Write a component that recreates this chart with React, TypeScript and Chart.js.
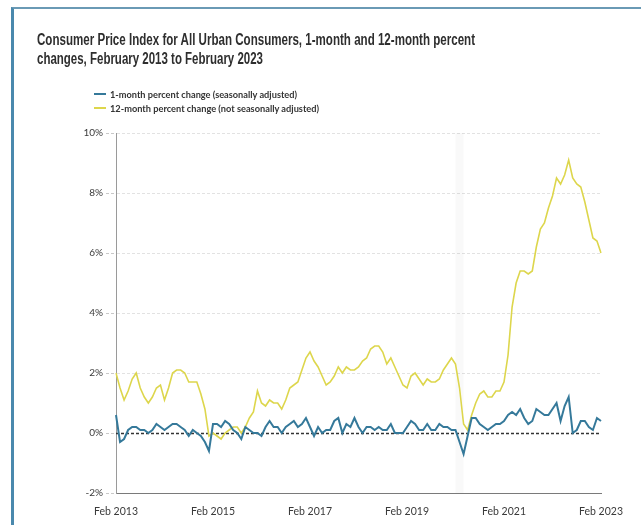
import React, { useEffect, useLayoutEffect, useRef } from "react";
import { Chart, registerables } from "chart.js";

Chart.register(...registerables);

// ---- Data -----------------------------------------------------------------
const monthNames = ["Jan", "Feb", "Mar", "Apr", "May", "Jun", "Jul", "Aug", "Sep", "Oct", "Nov", "Dec"];

// Categories: monthly, Feb 2013 .. Feb 2023
const months: string[] = [];
for (let i = 0; i < 121; i++) {
  const m = (1 + i) % 12;
  const y = 2013 + Math.floor((1 + i) / 12);
  months.push(`${monthNames[m]} ${y}`);
}

const xTickLabels = ["Feb 2013", "Feb 2015", "Feb 2017", "Feb 2019", "Feb 2021", "Feb 2023"];
const yTickValues = [-2, 0, 2, 4, 6, 8, 10];

// 1-month percent change (seasonally adjusted)
const oneMonth2013 = [0.6, -0.3, -0.2, 0.1, 0.2, 0.2, 0.1, 0.1, 0.0, 0.1, 0.3];
const oneMonth2014 = [0.2, 0.1, 0.2, 0.3, 0.3, 0.2, 0.1, -0.1, 0.1, 0.0, -0.1, -0.3];
const oneMonth2015 = [-0.6, 0.3, 0.3, 0.2, 0.4, 0.3, 0.1, 0.0, -0.2, 0.2, 0.1, 0.0];
const oneMonth2016 = [0.0, -0.1, 0.2, 0.4, 0.2, 0.2, 0.0, 0.2, 0.3, 0.4, 0.2, 0.3];
const oneMonth2017 = [0.5, 0.2, -0.1, 0.2, 0.0, 0.1, 0.1, 0.4, 0.5, 0.0, 0.3, 0.2];
const oneMonth2018 = [0.5, 0.2, 0.0, 0.2, 0.2, 0.1, 0.2, 0.1, 0.1, 0.3, 0.0, 0.0];
const oneMonth2019 = [0.0, 0.2, 0.4, 0.3, 0.1, 0.1, 0.3, 0.1, 0.1, 0.3, 0.2, 0.2];
const oneMonth2020 = [0.1, 0.1, -0.3, -0.7, -0.1, 0.5, 0.5, 0.3, 0.2, 0.1, 0.2, 0.3];
const oneMonth2021 = [0.3, 0.4, 0.6, 0.7, 0.6, 0.8, 0.5, 0.3, 0.4, 0.8, 0.7, 0.6];
const oneMonth2022 = [0.6, 0.8, 1.0, 0.4, 0.9, 1.2, 0.0, 0.1, 0.4, 0.4, 0.2, 0.1];
const oneMonth2023 = [0.5, 0.4];

// 12-month percent change (not seasonally adjusted)
const twelveMonth2013 = [2.0, 1.5, 1.1, 1.4, 1.8, 2.0, 1.5, 1.2, 1.0, 1.2, 1.5];
const twelveMonth2014 = [1.6, 1.1, 1.5, 2.0, 2.1, 2.1, 2.0, 1.7, 1.7, 1.7, 1.3, 0.8];
const twelveMonth2015 = [-0.1, 0.0, -0.1, -0.2, 0.0, 0.1, 0.2, 0.2, 0.0, 0.2, 0.5, 0.7];
const twelveMonth2016 = [1.4, 1.0, 0.9, 1.1, 1.0, 1.0, 0.8, 1.1, 1.5, 1.6, 1.7, 2.1];
const twelveMonth2017 = [2.5, 2.7, 2.4, 2.2, 1.9, 1.6, 1.7, 1.9, 2.2, 2.0, 2.2, 2.1];
const twelveMonth2018 = [2.1, 2.2, 2.4, 2.5, 2.8, 2.9, 2.9, 2.7, 2.3, 2.5, 2.2, 1.9];
const twelveMonth2019 = [1.6, 1.5, 1.9, 2.0, 1.8, 1.6, 1.8, 1.7, 1.7, 1.8, 2.1, 2.3];
const twelveMonth2020 = [2.5, 2.3, 1.5, 0.3, 0.1, 0.6, 1.0, 1.3, 1.4, 1.2, 1.2, 1.4];
const twelveMonth2021 = [1.4, 1.7, 2.6, 4.2, 5.0, 5.4, 5.4, 5.3, 5.4, 6.2, 6.8, 7.0];
const twelveMonth2022 = [7.5, 7.9, 8.5, 8.3, 8.6, 9.1, 8.5, 8.3, 8.2, 7.7, 7.1, 6.5];
const twelveMonth2023 = [6.4, 6.0];

const oneMonthChange = [
  ...oneMonth2013, ...oneMonth2014, ...oneMonth2015, ...oneMonth2016, ...oneMonth2017,
  ...oneMonth2018, ...oneMonth2019, ...oneMonth2020, ...oneMonth2021, ...oneMonth2022, ...oneMonth2023,
];
const twelveMonthChange = [
  ...twelveMonth2013, ...twelveMonth2014, ...twelveMonth2015, ...twelveMonth2016, ...twelveMonth2017,
  ...twelveMonth2018, ...twelveMonth2019, ...twelveMonth2020, ...twelveMonth2021, ...twelveMonth2022, ...twelveMonth2023,
];

// Recession shading (Feb 2020 - Apr 2020)
const recessionStart = "Feb 2020";
const recessionEnd = "Apr 2020";

const seriesNames = [
  "1-month percent change (seasonally adjusted)",
  "12-month percent change (not seasonally adjusted)",
];
const titleLines = [
  "Consumer Price Index for All Urban Consumers, 1-month and 12-month percent",
  "changes, February 2013 to February 2023",
];

const BLUE = "#35799a";
const YELLOW = "#ddd64c";

// ---- Plugins --------------------------------------------------------------
const backgroundPlugin = {
  id: "bgDecor",
  beforeDatasetsDraw(chart: any) {
    const { ctx, chartArea, scales } = chart;
    const x = scales.x;
    const y = scales.y;
    // recession band
    const x0 = x.getPixelForValue(months.indexOf(recessionStart));
    const x1 = x.getPixelForValue(months.indexOf(recessionEnd));
    ctx.save();
    ctx.fillStyle = "rgba(0,0,0,0.025)";
    ctx.fillRect(x0, chartArea.top, x1 - x0, chartArea.bottom - chartArea.top);
    // zero line
    const y0 = Math.round(y.getPixelForValue(0)) + 0.5;
    ctx.strokeStyle = "#333";
    ctx.lineWidth = 1.3;
    ctx.setLineDash([3, 2]);
    ctx.beginPath();
    ctx.moveTo(chartArea.left, y0);
    ctx.lineTo(chartArea.right, y0);
    ctx.stroke();
    ctx.restore();
  },
};

export default function App() {
  const canvasRef = useRef<HTMLCanvasElement>(null);
  const fitRefs = useRef<(HTMLSpanElement | null)[]>([]);

  useLayoutEffect(() => {
    const targets = [438, 226, 187, 209];
    const fit = () => {
      fitRefs.current.forEach((el, i) => {
        if (!el) return;
        el.style.transform = "none";
        const w = el.getBoundingClientRect().width;
        if (w > 0) el.style.transform = `scaleX(${targets[i] / w})`;
      });
    };
    fit();
    if ((document as any).fonts && (document as any).fonts.ready) {
      (document as any).fonts.ready.then(fit);
    }
  }, []);

  useEffect(() => {
    if (!canvasRef.current) return;
    const chart = new Chart(canvasRef.current, {
      type: "line",
      data: {
        labels: months,
        datasets: [
          {
            label: seriesNames[0],
            data: oneMonthChange,
            borderColor: BLUE,
            backgroundColor: BLUE,
            borderWidth: 2,
            pointRadius: 0,
            tension: 0,
          },
          {
            label: seriesNames[1],
            data: twelveMonthChange,
            borderColor: YELLOW,
            backgroundColor: YELLOW,
            borderWidth: 1.6,
            pointRadius: 0,
            tension: 0,
          },
        ],
      },
      options: {
        animation: false,
        responsive: false,
        maintainAspectRatio: false,
        events: [],
        layout: { padding: { left: 0, right: 40, top: 133, bottom: 0 } },
        plugins: {
          legend: { display: false },
          title: { display: false },
          tooltip: { enabled: false },
        },
        scales: {
          x: {
            type: "category",
            offset: false,
            grid: { display: false, drawTicks: false },
            border: { display: true, color: "#7a7a7a", width: 1 },
            afterFit: (scale: any) => {
              scale.height = 32;
            },
            ticks: {
              autoSkip: false,
              maxRotation: 0,
              minRotation: 0,
              padding: 12,
              color: "#3a3a3a",
              font: { family: "Lato", size: 10.5 },
              callback: function (_v: any, idx: number) {
                const lab = months[idx];
                return xTickLabels.includes(lab) ? lab : "";
              },
            },
          },
          y: {
            min: -2,
            max: 10,
            afterFit: (scale: any) => {
              scale.width = 116;
            },
            afterBuildTicks: (scale: any) => {
              scale.ticks = yTickValues.map((v) => ({ value: v }));
            },
            grid: {
              color: (c: any) => (c.tick && (c.tick.value === -2 || c.tick.value === 0) ? "rgba(0,0,0,0)" : "#e2e2e2"),
              lineWidth: 1,
              tickLength: 10,
              tickColor: "#c8c8c8",
              tickBorderDash: [3, 2],
            },
            border: { display: true, color: "#9a9a9a", width: 1, dash: [3, 2] },
            ticks: {
              padding: 3,
              color: "#3a3a3a",
              font: { family: "Lato", size: 10 },
              callback: (v: any) => `${v}%`,
            },
          },
        },
      },
      plugins: [backgroundPlugin],
    } as any);
    return () => chart.destroy();
  }, []);

  const titleStyle: React.CSSProperties = {
    display: "inline-block",
    whiteSpace: "nowrap",
    transformOrigin: "left center",
  };

  return (
    <div
      style={{
        position: "fixed",
        left: 0,
        top: 0,
        width: 641,
        height: 525,
        background: "#fff",
        overflow: "hidden",
      }}
    >
      <canvas
        ref={canvasRef}
        width={641}
        height={525}
        style={{ position: "absolute", left: 0, top: 0, width: 641, height: 525 }}
      />
      <div
        style={{
          position: "absolute",
          left: 11,
          top: 7,
          width: 700,
          height: 600,
          borderLeft: "3px solid #4a89ad",
          borderTop: "2px solid #6a9ab5",
          pointerEvents: "none",
        }}
      />
      <div
        style={{
          position: "absolute",
          left: 37,
          top: 30,
          fontFamily: "'Liberation Sans', Arial, sans-serif",
          fontWeight: 700,
          fontSize: 16,
          lineHeight: "19px",
          color: "#2e2e2e",
        }}
      >
        <div>
          <span ref={(el) => { fitRefs.current[0] = el; }} style={titleStyle}>{titleLines[0]}</span>
        </div>
        <div>
          <span ref={(el) => { fitRefs.current[1] = el; }} style={titleStyle}>{titleLines[1]}</span>
        </div>
      </div>
      {[0, 1].map((i) => (
        <div
          key={i}
          style={{
            position: "absolute",
            left: 94,
            top: i === 0 ? 87 : 101.5,
            height: 13,
            display: "flex",
            alignItems: "center",
            fontFamily: "Lato, sans-serif",
            fontWeight: 700,
            fontSize: 10,
            color: "#333",
          }}
        >
          <div style={{ width: 12, height: 2, background: i === 0 ? BLUE : YELLOW, marginRight: 4 }} />
          <span ref={(el) => { fitRefs.current[2 + i] = el; }} style={titleStyle}>{seriesNames[i]}</span>
        </div>
      ))}
    </div>
  );
}
